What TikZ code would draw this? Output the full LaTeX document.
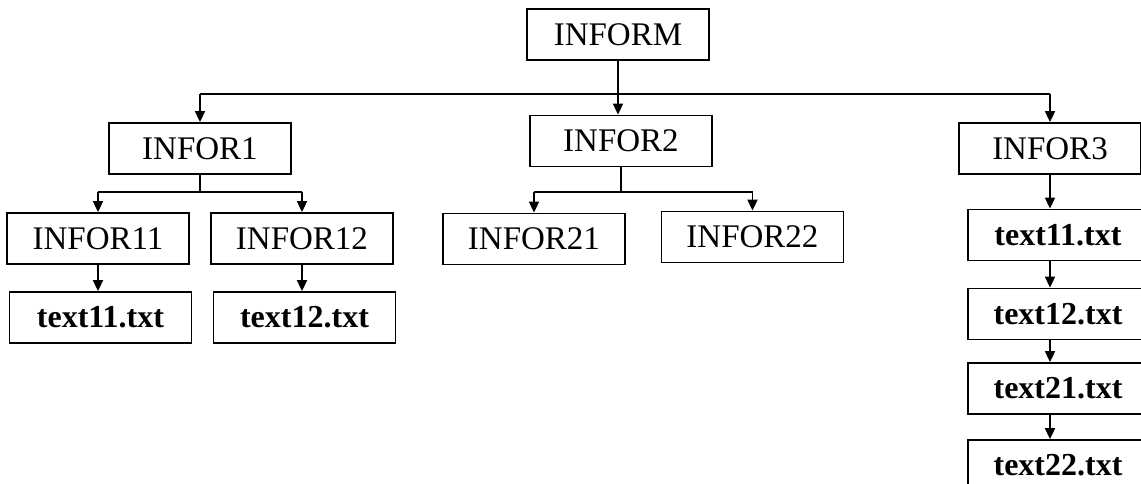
\documentclass[tikz,border=0pt]{standalone}
\usepackage{fontspec}
\setmainfont{Liberation Serif}
\usetikzlibrary{arrows.meta}

\begin{document}
\begin{tikzpicture}[
          x=1pt, y=-1pt, line width=1.8pt,
          every node/.style={draw, inner sep=0pt, minimum width=182pt, minimum height=51pt,
                             font=\fontsize{33}{36}\selectfont},
          filebox/.style={font=\fontsize{32}{36}\selectfont\bfseries},
          link/.style={-{Triangle[width=10pt,length=11pt]}}
        ]
        \useasboundingbox (0,0) rectangle (1141,484);

        % Root
        \node (inform) at (618,34.5) {INFORM};

        % Second level
        \node (infor1) at (200,148.5) {INFOR1};
        \node (infor2) at (621,141) {INFOR2};
        \node (infor3) at (1050,148.5) {INFOR3};

        % Third level
        \node (infor11) at (98,238.5) {INFOR11};
        \node (infor12) at (302,238.5) {INFOR12};
        \node (infor21) at (534,239) {INFOR21};
        \node (infor22) at (752.5,237) {INFOR22};

        % Files
        \node[filebox] (text11) at (100.5,317.5) {text11.txt};
        \node[filebox] (text12) at (304.5,317.5) {text12.txt};
        \node[filebox, minimum width=180pt] (col11) at (1058,235) {text11.txt};
        \node[filebox, minimum width=180pt] (col12) at (1058,314) {text12.txt};
        \node[filebox, minimum width=180pt] (col21) at (1058,388.5) {text21.txt};
        \node[filebox, minimum width=180pt] (col22) at (1058,465.5) {text22.txt};

        % Top bus
        \coordinate (bus1) at (infor1.north |- 0,94);
        \coordinate (bus3) at (infor3.north |- 0,94);
        \draw (bus1) -- (bus3);
        \draw[link] (bus1) -- (infor1);
        \draw[link] (bus3) -- (infor3);
        \draw[link] (inform.south) -- (inform.south |- infor2.north);

        % Under INFOR1
        \coordinate (bus11) at (infor11.north |- 0,192);
        \coordinate (bus12) at (infor12.north |- 0,192);
        \draw (infor1.south) -- (infor1.south |- bus11);
        \draw (bus11) -- (bus12);
        \draw[link] (bus11) -- (infor11);
        \draw[link] (bus12) -- (infor12);
        \draw[link] (infor11.south) -- (infor11.south |- text11.north);
        \draw[link] (infor12.south) -- (infor12.south |- text12.north);

        % Under INFOR2
        \coordinate (bus21) at (infor21.north |- 0,192);
        \coordinate (bus22) at (infor22.north |- 0,192);
        \draw (infor2.south) -- (infor2.south |- bus21);
        \draw (bus21) -- (bus22);
        \draw[link] (bus21) -- (infor21);
        \draw[link] (bus22) -- (infor22);

        % Under INFOR3
        \draw[link] (infor3.south) -- (infor3.south |- col11.north);
        \draw[link] (infor3.south |- col11.south) -- (infor3.south |- col12.north);
        \draw[link] (infor3.south |- col12.south) -- (infor3.south |- col21.north);
        \draw[link] (infor3.south |- col21.south) -- (infor3.south |- col22.north);

      \end{tikzpicture}
\end{document}
